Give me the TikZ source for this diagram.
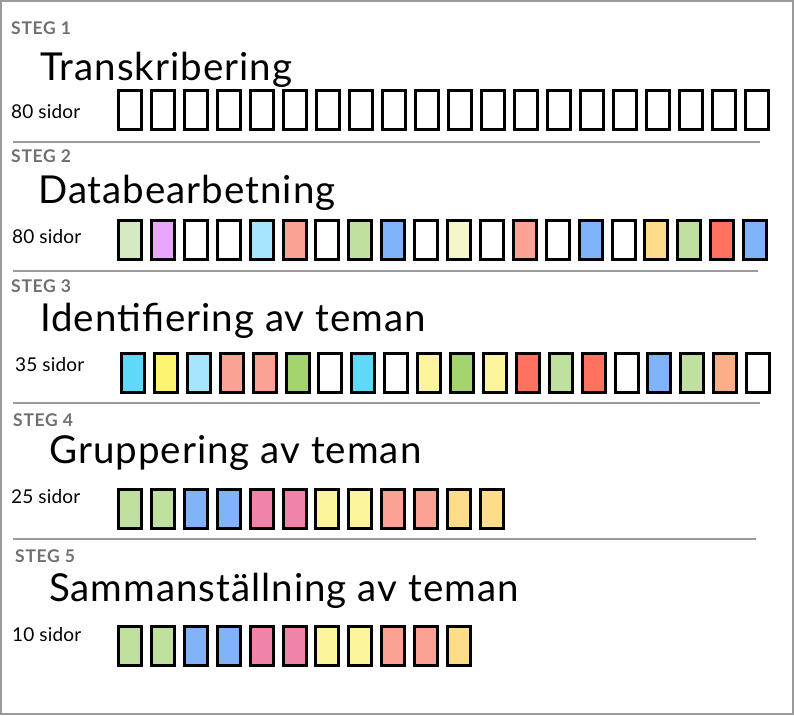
\documentclass[tikz,border=0pt]{standalone}
\usepackage{fontspec}
\setmainfont{Lato}
\definecolor{framegray}{HTML}{9A9A9A}
\definecolor{steggray}{HTML}{707070}
\definecolor{lgreen}{HTML}{D5EAC3}
\definecolor{green}{HTML}{C0E0A0}
\definecolor{dgreen}{HTML}{A3D46E}
\definecolor{purple}{HTML}{E7A7FB}
\definecolor{lcyan}{HTML}{A6E5FB}
\definecolor{cyan}{HTML}{5FD9F8}
\definecolor{salmon}{HTML}{FBA295}
\definecolor{red}{HTML}{FE725F}
\definecolor{blue}{HTML}{80B3FA}
\definecolor{pale}{HTML}{F5F6C8}
\definecolor{lyellow}{HTML}{FDF59C}
\definecolor{yellow}{HTML}{FDF46F}
\definecolor{orange}{HTML}{FDDC8A}
\definecolor{peach}{HTML}{FDAE88}
\definecolor{pink}{HTML}{F083AA}
\begin{document}
\begin{tikzpicture}[x=1pt,y=-1pt,
    page/.style={draw=black, line width=3pt, minimum width=23pt, minimum height=39pt, inner sep=0pt},
    steg/.style={anchor=base west, inner sep=0pt, text=steggray,
      font=\fontsize{17.5}{17.5}\selectfont\addfontfeatures{LetterSpace=4}\bfseries},
    title/.style={anchor=base west, inner sep=0pt,
      font=\fontsize{38.5}{38.5}\selectfont\addfontfeatures{LetterSpace=2.6}},
    sidor/.style={anchor=base west, inner sep=0pt,
      font=\fontsize{19}{19}\selectfont\addfontfeatures{LetterSpace=1}},
    rule/.style={draw=framegray, line width=1.5pt}]
  \useasboundingbox (0,0) rectangle (794,715);
  \draw[framegray, line width=2pt] (1,1) rectangle (793,714);
  % steg 1
  \node[steg] (s1) at (11,34) {STEG 1};
  \node[title] (t1) at (40,80) {Transkribering};
  \node[sidor] (n1) at (11,118) {80 sidor};
  \foreach \i in {1,...,20}
    \node[page, fill=white] (r1-\i) at (97+33*\i,110) {};
  \draw[rule] (13,142) -- (760,142);
  % steg 2
  \node[steg] (s2) at (11,162) {STEG 2};
  \node[title] (t2) at (38,203) {Databearbetning};
  \node[sidor] (n2) at (12,243) {80 sidor};
  \foreach \c [count=\i] in {lgreen,purple,white,white,lcyan,salmon,white,green,blue,white,
      pale,white,salmon,white,blue,white,orange,green,red,blue}
    \node[page, fill=\c] (r2-\i) at (97.1+32.9*\i,240) {};
  \draw[rule] (13,271) -- (758,271);
  % steg 3
  \node[steg] (s3) at (11,292) {STEG 3};
  \node[title] (t3) at (40,331) {Identifiering av teman};
  \node[sidor] (n3) at (15,371) {35 sidor};
  \foreach \c [count=\i] in {cyan,yellow,lcyan,salmon,salmon,dgreen,white,cyan,white,lyellow,
      dgreen,lyellow,red,green,red,white,blue,green,peach,white}
    \node[page, fill=\c] (r3-\i) at (100.1+32.9*\i,373) {};
  \draw[rule] (13,403) -- (760,403);
  % steg 4
  \node[steg] (s4) at (13,426) {STEG 4};
  \node[title] (t4) at (49,463) {Gruppering av teman};
  \node[sidor] (n4) at (11,503) {25 sidor};
  \foreach \c [count=\i] in {green,green,blue,blue,pink,pink,lyellow,lyellow,salmon,salmon,orange,orange}
    \node[page, fill=\c] (r4-\i) at (97.1+32.9*\i,508.5) {};
  \draw[rule] (13,539) -- (756,539);
  % steg 5
  \node[steg] (s5) at (15,562) {STEG 5};
  \node[title] (t5) at (49,601) {Sammanställning av teman};
  \node[sidor] (n5) at (12,641) {10 sidor};
  \foreach \c [count=\i] in {green,green,blue,blue,pink,pink,lyellow,lyellow,salmon,salmon,orange}
    \node[page, fill=\c] (r5-\i) at (97.1+32.9*\i,646) {};
\end{tikzpicture}
\end{document}
